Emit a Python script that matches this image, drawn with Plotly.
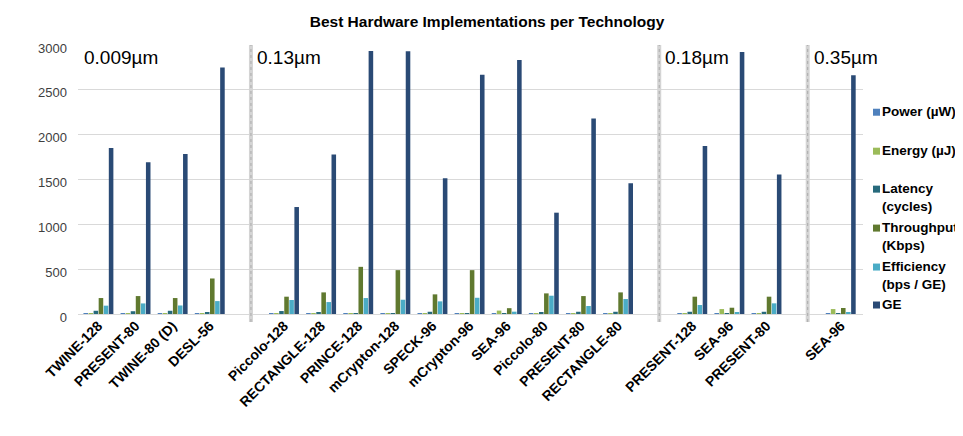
import plotly.graph_objects as go

# ---- data ----
technologies = ["0.009µm", "0.13µm", "0.18µm", "0.35µm"]
group_names = [
    ["TWINE-128", "PRESENT-80", "TWINE-80 (D)", "DESL-56"],
    ["Piccolo-128", "RECTANGLE-128", "PRINCE-128", "mCrypton-128", "SPECK-96",
     "mCrypton-96", "SEA-96", "Piccolo-80", "PRESENT-80", "RECTANGLE-80"],
    ["PRESENT-128", "SEA-96", "PRESENT-80"],
    ["SEA-96"],
]
series_names = ["Power (µW)", "Energy (µJ)", "Latency<br>(cycles)",
                "Throughput<br>(Kbps)", "Efficiency<br>(bps / GE)", "GE"]
power = [4, 5, 4, 3, 4, 5, 3, 3, 4, 3, 5, 4, 5, 4, 5, 6, 5, 6]
energy = [8, 10, 8, 6, 5, 6, 4, 4, 7, 4, 38, 6, 9, 8, 10, 55, 10, 55]
latency = [36, 31, 36, 16, 33, 22, 5, 5, 25, 5, 8, 20, 25, 25, 25, 6, 25, 6]
throughput = [178, 200, 178, 396, 193, 241, 526, 489, 219, 489, 65, 230, 200, 241,
              193, 70, 193, 67]
efficiency = [93, 118, 95, 144, 156, 133, 178, 159, 141, 181, 26, 204, 89, 167,
              100, 22, 119, 15]
ge = [1852, 1692, 1785, 2748, 1193, 1778, 2933, 2930, 1515, 2667, 2833, 1130, 2181,
      1459, 1874, 2922, 1556, 2663]
colors = ["#4F81BD", "#9BBB59", "#276A7C", "#60792F", "#4BACC6", "#2A4A75"]
y_ticks = [0, 500, 1000, 1500, 2000, 2500, 3000]

# ---- layout constants (pixels, page coordinates) ----
W, H = 963, 436
OX, OY = 8, 8                      # page offset of the figure div
P_L, P_R, P_T, P_B = 78, 863, 44.7, 314   # plot area in page pixels
PW, PH = P_R - P_L, P_B - P_T


def pxx(p):
    return (p - P_L) / PW


def pxy(p):
    return (P_B - p) / PH


# ---- positions: one empty slot between technology groups ----
xs, labels, seps = [], [], []
pos = 0
for gi, names in enumerate(group_names):
    for n in names:
        xs.append(pos)
        labels.append(n)
        pos += 1
    if gi < len(group_names) - 1:
        seps.append(pos + 0.11)
        pos += 1

fig = go.Figure()
for name, vals, col in zip(series_names,
                           [power, energy, latency, throughput, efficiency, ge],
                           colors):
    fig.add_trace(go.Bar(x=xs, y=vals, name=name.replace("<br>", " "),
                         marker_color=col, marker_line_width=0, showlegend=False))

FONT = "Liberation Sans"
shapes = []
for s in seps:
    shapes.append(dict(type="line", xref="x", yref="paper", x0=s, x1=s,
                       y0=pxy(322), y1=1.0, line=dict(color="#d4d4d4", width=4),
                       layer="above"))
    shapes.append(dict(type="line", xref="x", yref="paper", x0=s, x1=s,
                       y0=pxy(322), y1=1.0,
                       line=dict(color="#ababab", width=1, dash="dot"),
                       layer="above"))

annotations = []
label_x = [-0.44] + [s + 0.11 for s in seps]
for t, lx in zip(technologies, label_x):
    annotations.append(dict(text=t, x=lx, y=pxy(57), xref="x", yref="paper",
                            xanchor="left", yanchor="middle", showarrow=False,
                            font=dict(family=FONT, size=19, color="#000000")))

# legend drawn by hand (square + text) to match the reference spacing
leg_y = [112, 151, 189, 228, 267, 305]
for name, col, ly in zip(series_names, colors, leg_y):
    shapes.append(dict(type="rect", xref="paper", yref="paper",
                       x0=pxx(873), x1=pxx(880), y0=pxy(ly + 3.5), y1=pxy(ly - 3.5),
                       fillcolor=col, line=dict(width=0)))
    annotations.append(dict(text="<b>" + name + "</b>", x=pxx(880), y=pxy(ly - 10),
                            xref="paper", yref="paper", xanchor="left",
                            yanchor="top", align="left", showarrow=False,
                            font=dict(family=FONT, size=13.5, color="#000000")))

fig.update_layout(
    width=W, height=H,
    margin=dict(l=P_L - OX, r=W - (P_R - OX), t=P_T - OY, b=H - (P_B - OY),
                autoexpand=False),
    paper_bgcolor="white", plot_bgcolor="white",
    title=dict(text="<b>Best Hardware Implementations per Technology</b>",
               x=(487 - OX) / W, xanchor="center", y=1 - (22 - OY) / H,
               yanchor="middle",
               font=dict(family=FONT, size=15.5, color="#000000")),
    barmode="group", bargap=0.18, bargroupgap=0.1,
    showlegend=False,
    xaxis=dict(range=[-0.55, 20.6], tickmode="array", tickvals=xs,
               ticktext=["<b>" + l + "</b>" for l in labels], tickangle=-45,
               tickfont=dict(family=FONT, size=14, color="#000000"),
               showgrid=False, zeroline=False, showline=False, ticks=""),
    yaxis=dict(range=[0, 3000], tickvals=y_ticks, showgrid=True,
               gridcolor="#d9d9d9", gridwidth=1, zeroline=True,
               zerolinecolor="#d9d9d9", zerolinewidth=1, showline=False,
               tickfont=dict(family=FONT, size=13, color="#404040"),
               ticklabelstandoff=10, ticklabelshift=3),
    shapes=shapes, annotations=annotations,
)

fig.write_html("out.html")
